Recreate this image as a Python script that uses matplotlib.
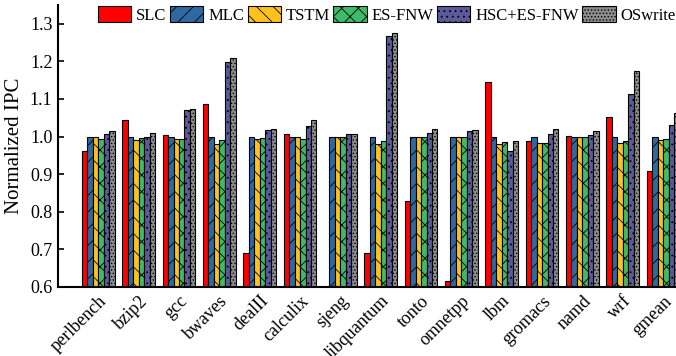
import numpy as np
import matplotlib
matplotlib.use('Agg')
import matplotlib.pyplot as plt

# Normalized IPC per benchmark (normalized to MLC)
benchmarks = ['perlbench', 'bzip2', 'gcc', 'bwaves', 'dealII', 'calculix', 'sjeng',
              'libquantum', 'tonto', 'omnetpp', 'lbm', 'gromacs', 'namd', 'wrf', 'gmean']

slc = [0.961, 1.043, 1.003, 1.086, 0.691, 1.006, 0.50, 0.689, 0.828, 0.617,
       1.145, 0.989, 1.001, 1.053, 0.909]
mlc = [1.0] * 15
tstm = [1.0, 0.990, 0.993, 0.981, 0.993, 0.999, 1.0, 0.979, 1.0, 1.0,
        0.979, 0.983, 1.0, 0.982, 0.990]
es_fnw = [0.994, 0.995, 0.994, 0.990, 0.996, 0.994, 1.0, 0.989, 1.0, 1.0,
          0.985, 0.984, 1.0, 0.989, 0.994]
hsc_es_fnw = [1.008, 1.0, 1.071, 1.198, 1.018, 1.028, 1.008, 1.268, 1.009, 1.015,
              0.962, 1.008, 1.004, 1.114, 1.030]
oswrite = [1.016, 1.009, 1.074, 1.209, 1.020, 1.045, 1.008, 1.275, 1.020, 1.018,
           0.989, 1.021, 1.015, 1.175, 1.063]

series = [
    ('SLC', slc, '#ff0000', ''),
    ('MLC', mlc, '#2f69a3', '//'),
    ('TSTM', tstm, '#ffc21a', '\\\\'),
    ('ES-FNW', es_fnw, '#3dbb68', 'xx'),
    ('HSC+ES-FNW', hsc_es_fnw, '#5b5b99', '...'),
    ('OSwrite', oswrite, '#8c8c8c', '.....'),
]

plt.rcParams['font.family'] = ['Liberation Serif', 'DejaVu Serif']
plt.rcParams['hatch.linewidth'] = 0.6

fig = plt.figure(figsize=(6.76, 3.56), dpi=100)
ax = fig.add_axes([0.0858, 0.194, 0.938, 0.792])

x = np.arange(len(benchmarks))
width = 0.136
for i, (name, vals, color, hatch) in enumerate(series):
    offset = (i - 2.5) * width
    ax.bar(x + offset, np.array(vals) - 0.6, width, bottom=0.6, color=color,
           edgecolor='black', linewidth=0.8, hatch=hatch, label=name)

ax.set_xlim(-1.0, 14.72)
ax.set_ylim(0.6, 1.35)
ax.set_yticks(np.arange(0.6, 1.31, 0.1))
ax.set_yticklabels([f'{v:.1f}' for v in np.arange(0.6, 1.31, 0.1)], fontsize=13)
ax.set_xticks(x)
ax.set_xticklabels(benchmarks, rotation=45, ha='right', rotation_mode='anchor', fontsize=13)
ax.tick_params(axis='x', length=0, pad=4)
ax.tick_params(axis='y', direction='in', length=4, width=1.2, pad=4)
ax.set_ylabel('Normalized IPC', fontsize=15, labelpad=4)

for side in ['top', 'right']:
    ax.spines[side].set_visible(False)
for side in ['left', 'bottom']:
    ax.spines[side].set_linewidth(1.5)

fig.legend(loc='upper right', bbox_to_anchor=(1.0, 0.982), ncol=6, frameon=False,
           fontsize=12, handlelength=2.0, handleheight=1.1, handletextpad=0.3,
           columnspacing=0.2, borderaxespad=0, borderpad=0)

fig.savefig('out.png', dpi=100)
